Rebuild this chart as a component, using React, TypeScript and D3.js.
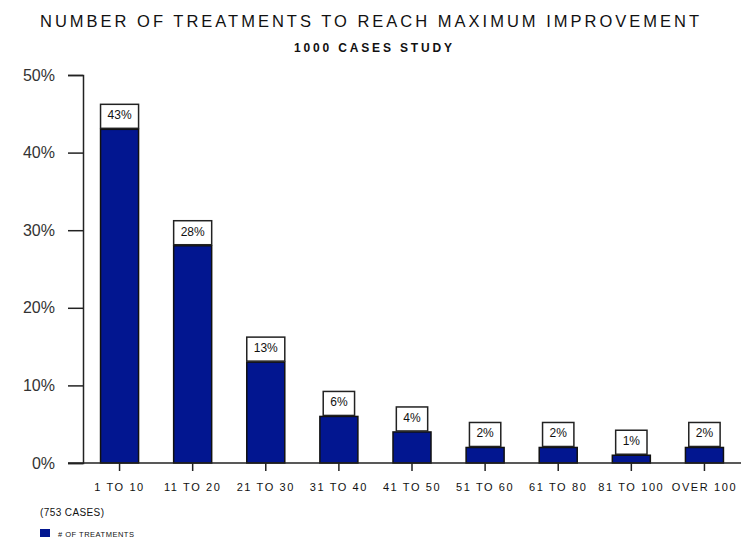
import React, { useEffect, useRef } from "react";
import * as d3 from "d3";

const categories = ["1 TO 10", "11 TO 20", "21 TO 30", "31 TO 40", "41 TO 50", "51 TO 60", "61 TO 80", "81 TO 100", "OVER 100"];
const values = [43, 28, 13, 6, 4, 2, 2, 1, 2];
const yTicks = [0, 10, 20, 30, 40, 50];

export default function App() {
  const ref = useRef<SVGSVGElement>(null);

  useEffect(() => {
    const node = ref.current;
    if (!node) return;
    const svg = d3.select(node);
    svg.selectAll("*").remove();

    const W = 741;
    const H = 544;
    const m = { t: 75, r: 0, b: 81, l: 83 }; // plot box

    const x = d3.scaleBand().domain(categories).range([m.l, W]).paddingInner(0.48).paddingOuter(0.24);
    const y = d3.scaleLinear().domain([0, 50]).range([H - m.b, m.t]);
    const font = "'Liberation Sans', Arial, sans-serif";

    // Title
    svg.append("text")
      .attr("x", 40).attr("y", 27)
      .attr("textLength", 659).attr("lengthAdjust", "spacing")
      .attr("font-family", font).attr("font-size", 16.5).attr("fill", "#111")
      .text("NUMBER OF TREATMENTS TO REACH MAXIMUM IMPROVEMENT");
    svg.append("text")
      .attr("x", 294).attr("y", 52)
      .attr("textLength", 158).attr("lengthAdjust", "spacing")
      .attr("font-family", font).attr("font-size", 12).attr("font-weight", "bold").attr("fill", "#111")
      .text("1000 CASES STUDY");

    // Y axis
    const yAxis = svg.append("g").attr("transform", `translate(${m.l},0)`)
      .call(d3.axisLeft(y).tickValues(yTicks).tickSize(15).tickPadding(13).tickFormat(d => `${d}%`));
    yAxis.select(".domain").attr("stroke", "#222").attr("stroke-width", 1.5);
    yAxis.selectAll(".tick line").attr("stroke", "#222").attr("stroke-width", 1.5);
    yAxis.selectAll("text").attr("font-family", font).attr("font-size", 16).attr("fill", "#333");

    // Bars
    svg.selectAll("rect.bar").data(values).enter().append("rect")
      .attr("class", "bar")
      .attr("x", (_, i) => x(categories[i])!)
      .attr("y", d => y(d))
      .attr("width", x.bandwidth())
      .attr("height", d => y(0) - y(d))
      .attr("fill", "#021690")
      .attr("stroke", "#111").attr("stroke-width", 1.5);

    // X axis
    svg.append("line")
      .attr("x1", 68).attr("x2", W).attr("y1", y(0)).attr("y2", y(0))
      .attr("stroke", "#222").attr("stroke-width", 1.5);
    const xAxis = svg.append("g").attr("transform", `translate(0,${y(0)})`)
      .call(d3.axisBottom(x).tickSize(8).tickPadding(12));
    xAxis.select(".domain").remove();
    xAxis.selectAll(".tick line").attr("stroke", "#222").attr("stroke-width", 1.5);
    xAxis.selectAll("text").attr("font-family", font).attr("font-size", 11)
      .attr("letter-spacing", 1.6).attr("fill", "#111");

    // Value labels in boxes
    const lab = svg.selectAll("g.lab").data(values).enter().append("g").attr("class", "lab");
    lab.each(function (d, i) {
      const g = d3.select(this);
      const cx = x(categories[i])! + x.bandwidth() / 2;
      const t = g.append("text")
        .attr("x", cx).attr("y", y(d) - 10)
        .attr("text-anchor", "middle")
        .attr("font-family", font).attr("font-size", 12).attr("fill", "#111")
        .text(`${d}%`);
      const w = (t.node() as SVGTextElement).getComputedTextLength() + 14;
      g.insert("rect", "text")
        .attr("x", cx - w / 2).attr("y", y(d) - 25)
        .attr("width", w).attr("height", 24)
        .attr("fill", "#fff").attr("stroke", "#222").attr("stroke-width", 1.5);
    });

    // Footnote and legend
    svg.append("text")
      .attr("x", 40).attr("y", 516)
      .attr("font-family", font).attr("font-size", 10).attr("letter-spacing", 0.4).attr("fill", "#111")
      .text("(753 CASES)");
    svg.append("rect")
      .attr("x", 40).attr("y", 529).attr("width", 10).attr("height", 8)
      .attr("fill", "#021690");
    svg.append("text")
      .attr("x", 58).attr("y", 537)
      .attr("font-family", font).attr("font-size", 7.5).attr("letter-spacing", 0.5).attr("fill", "#111")
      .text("# OF TREATMENTS");
  }, []);

  return (
    <svg ref={ref} width={741} height={544}
      style={{ position: "absolute", left: 0, top: 0, background: "#fff" }} />
  );
}
